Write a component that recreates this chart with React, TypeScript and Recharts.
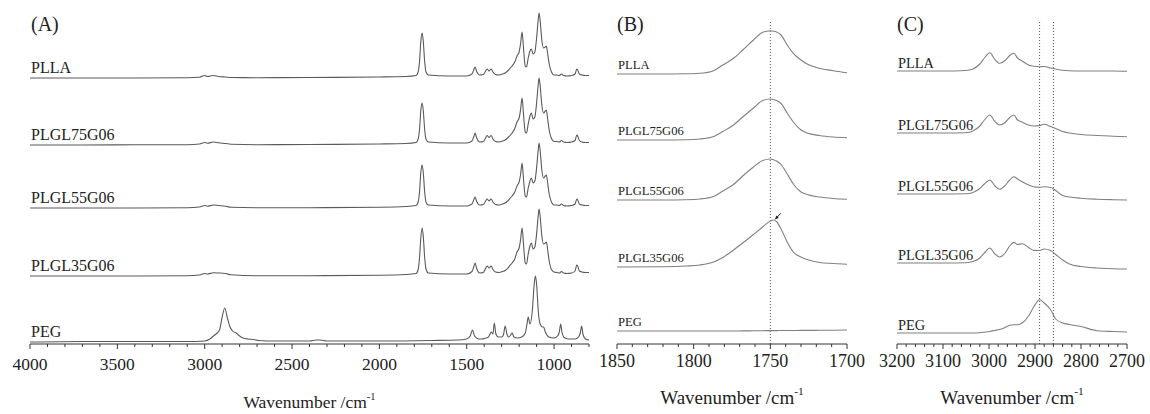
import React from 'react'
import { LineChart, Line, XAxis, YAxis, ReferenceLine, ReferenceDot, Label } from 'recharts'

const SERIF = "'Liberation Serif', 'Times New Roman', serif"

const names = ['PLLA', 'PLGL75G06', 'PLGL55G06', 'PLGL35G06', 'PEG']

// (A) full range 4000-800 cm-1, intensities in a.u.
const waveA = [4000, 3700, 3400, 3100, 3030, 3000, 2985, 2950, 2920, 2880, 2850, 2700, 2400, 2000, 1850, 1790, 1778, 1770, 1763, 1755, 1748, 1741, 1733, 1720, 1600, 1500, 1470, 1460, 1452, 1444, 1425, 1405, 1395, 1383, 1372, 1360, 1350, 1335, 1315, 1295, 1280, 1266, 1255, 1240, 1225, 1212, 1200, 1192, 1183, 1175, 1165, 1158, 1148, 1138, 1130, 1120, 1110, 1100, 1092, 1086, 1080, 1070, 1060, 1050, 1044, 1038, 1028, 1015, 1000, 985, 970, 957, 945, 925, 900, 880, 870, 865, 855, 840, 820, 800]
const pllaA = [0, 0, 0, 0.3, 0.8, 2.5, 1.5, 2.5, 1.5, 1, 0.5, 0.3, 0.5, 1, 1.5, 2.5, 6, 17, 36, 45, 35, 17, 6, 3, 2, 2, 4, 8, 11, 7, 3, 3.5, 6, 9, 7, 9, 6, 3.5, 3, 4, 5, 7, 9, 12, 16, 22, 26, 34, 46, 30, 12, 11, 20, 27, 29, 24, 26, 40, 56, 65, 58, 38, 30, 31, 32, 26, 14, 6, 3, 3, 2.5, 4, 2.5, 2, 2.5, 4, 9, 8, 4, 3, 2.5, 2.5]
const plgl75A = [0, 0, 0.2, 0.3, 1, 2.5, 1.8, 3, 2.2, 1.5, 0.8, 0.3, 0.5, 1, 1.5, 2.5, 6, 16, 34, 42, 33, 16, 6, 3, 2, 2, 4, 8, 12, 7.5, 3, 3.5, 6, 9.5, 7.5, 9.5, 6, 3.5, 3, 4, 5, 7, 9, 12, 16.5, 23, 27, 35, 47, 31, 13, 12, 21, 29, 32, 26, 28, 42, 58, 67, 60, 40, 32, 34, 35, 28, 15, 6.5, 3.5, 3.5, 3, 4.5, 3, 2.5, 3, 4.5, 10, 9, 4.5, 3, 2.5, 2.5]
const plgl55A = [0, 0, 0, 0.3, 1, 2.5, 1.8, 3, 2.5, 1.8, 0.8, 0.3, 0.3, 0.8, 1.5, 2.5, 6, 16.5, 35, 43, 34, 16.5, 6, 3, 2, 2, 4, 8, 11, 7, 3, 3.5, 6, 9, 7, 9, 6, 3.5, 3, 4, 5, 7, 9, 12, 16, 22, 26, 33, 45, 29, 12, 11, 20, 27, 30, 25, 27, 40, 56, 65, 58, 38, 30, 32, 33, 27, 14, 6, 3, 3, 2.5, 4, 2.5, 2, 2.5, 4, 9, 8, 4, 3, 2.5, 2.5]
const plgl35A = [0, 0, 0, 0.3, 1, 2.5, 2, 3.2, 3, 2.5, 1.2, 0.3, 0.3, 0.8, 1.5, 2.5, 6.5, 18.5, 38, 48, 38, 19, 7, 3, 2, 2, 4.5, 9, 13, 8, 3, 3.5, 6.5, 10, 8, 10, 6.5, 4, 3.5, 4.5, 5.5, 7.5, 10, 13, 17, 24, 28, 36, 48, 32, 13, 12, 22, 30, 33, 27, 29, 42, 58, 67, 60, 40, 32, 33, 34, 28, 15, 6.5, 4, 3.5, 3, 4.5, 3, 2.5, 3, 5, 11, 10, 5, 4, 3.5, 3.5]
const wavePegA = [4000, 3700, 3500, 3300, 3100, 3000, 2970, 2950, 2935, 2915, 2900, 2885, 2870, 2855, 2840, 2820, 2800, 2780, 2750, 2720, 2690, 2600, 2400, 2360, 2340, 2300, 2000, 1700, 1550, 1500, 1480, 1467, 1455, 1430, 1415, 1400, 1375, 1360, 1350, 1342, 1333, 1320, 1300, 1290, 1280, 1270, 1260, 1248, 1240, 1230, 1210, 1185, 1165, 1155, 1148, 1138, 1125, 1115, 1107, 1100, 1090, 1080, 1065, 1060, 1050, 1030, 1000, 980, 970, 962, 955, 945, 920, 880, 860, 850, 842, 835, 820, 800]
const pegA = [0, 0.5, 0.5, 0.5, 0.5, 1, 3, 6, 8, 12, 25, 34, 24, 15, 11, 9, 6, 4, 3, 2.5, 1.5, 1, 1, 2, 2, 1, 1, 1.5, 2, 3, 6, 12, 6, 3, 3, 3.5, 5, 10, 8, 19, 8, 5, 5, 7, 16, 8, 5, 7, 9, 5, 4, 5, 9, 18, 25, 18, 30, 55, 66, 58, 30, 18, 15, 15, 10, 5, 4, 6, 10, 18, 10, 5, 3, 3, 5, 9, 16, 8, 3, 2]
const offsetA = [266, 199, 136, 68, 2]
const ticksA = [4000, 3900, 3800, 3700, 3600, 3500, 3400, 3300, 3200, 3100, 3000, 2900, 2800, 2700, 2600, 2500, 2400, 2300, 2200, 2100, 2000, 1900, 1800, 1700, 1600, 1500, 1400, 1300, 1200, 1100, 1000, 900, 800]
const majorA = [4000, 3500, 3000, 2500, 2000, 1500, 1000]

// (B) carbonyl region
const waveB = [1850, 1820, 1805, 1796, 1787, 1781, 1774, 1768, 1761, 1755, 1750, 1748, 1746, 1743, 1739, 1735, 1730, 1726, 1718, 1709, 1700]
const pllaB = [0, 0, 0.2, 0.7, 3.3, 9, 15.7, 24, 34, 41.7, 43.3, 42.8, 42, 39, 29, 20.7, 14, 10, 5.7, 3.3, 1.3]
const plgl75B = [0, 0, 0.3, 1, 3.5, 8.5, 15, 23, 32, 39.5, 41, 40.5, 39.5, 36.5, 27, 18, 10, 7, 4.5, 3, 2.3]
const plgl55B = [0, 0, 0.3, 1, 3.5, 9, 15.5, 24, 33, 39.5, 41, 40.3, 39, 35.5, 26, 16, 8, 5.5, 3, 1.5, 0.7]
const plgl35B = [0, 0.3, 1, 2, 5, 9.5, 17, 24, 32.5, 40, 46, 47, 45.5, 38, 25, 15, 10, 7.5, 4.5, 3.5, 2.7]
const pegB = [0, 0, 0, 0, 0, 0, 0, 0.1, 0.2, 0.3, 0.4, 0.4, 0.4, 0.5, 0.5, 0.5, 0.6, 0.6, 0.7, 0.8, 1]
const offsetB = [270, 204, 144, 77, 13]
const ticksB = [1850, 1840, 1830, 1820, 1810, 1800, 1790, 1780, 1770, 1760, 1750, 1740, 1730, 1720, 1710, 1700]
const majorB = [1850, 1800, 1750, 1700]

// (C) C-H stretching region
const waveC = [3200, 3100, 3050, 3035, 3020, 3010, 2998, 2988, 2977, 2965, 2955, 2946, 2938, 2928, 2914, 2903, 2890, 2880, 2866, 2855, 2840, 2825, 2800, 2765, 2730, 2700]
const pllaC = [0, 0, 0.5, 2, 7, 13, 18.3, 12, 7.7, 10.5, 15.5, 17.7, 13, 10, 6, 4.7, 4.3, 4.5, 3, 2, 0.7, 0.2, 0, 0, 0, -0.3]
const plgl75C = [0, 0, 0.3, 2, 7, 13, 18, 12, 8, 10.5, 15.5, 18, 13, 11, 8, 7, 7.5, 8.7, 6.5, 4.5, 1.5, 0, -1.5, -2.5, -3.2, -3.7]
const plgl55C = [0, 0, 0.2, 1.5, 5.5, 10, 14, 8.5, 4.7, 8.5, 14, 17.3, 15, 12.3, 9, 7.2, 6.7, 7.2, 6.5, 3.5, -1.5, -3, -4.3, -5.2, -5.7, -6]
const plgl35C = [0, 0, 0.3, 1.5, 5, 10, 15, 9.5, 6, 10, 17, 20.6, 18.5, 19.3, 15.5, 12.6, 12.5, 14, 12.5, 8.5, 3, -1, -3.5, -5, -5.7, -6]
const pegC = [0, 0, 0, 0, 0.3, 0.8, 1.5, 2.5, 3.5, 5.5, 7.8, 8.3, 8.3, 10, 17, 26, 33.3, 30, 23.3, 14, 10, 8.5, 6.5, 2.3, 1.5, 1]
const offsetC = [273, 211, 150, 81, 11]
const ticksC = [3200, 3180, 3160, 3140, 3120, 3100, 3080, 3060, 3040, 3020, 3000, 2980, 2960, 2940, 2920, 2900, 2880, 2860, 2840, 2820, 2800, 2780, 2760, 2740, 2720, 2700]
const majorC = [3200, 3100, 3000, 2900, 2800, 2700]

const markerB = [1750]
const markerC = [2890, 2860]

const Y_MAX = 344

const stack = (wave: number[], vals: number[], off: number) =>
  wave.map((w, i) => ({ x: w, y: vals[i] + off }))

const axisTick = (majors: number[], fontSize: number, dy: number) => (p: any) => {
  const major = majors.includes(p.payload.value)
  return (
    <g>
      <line x1={p.x} x2={p.x} y1={p.y} y2={p.y + (major ? 5 : 3)} stroke="#333" />
      {major && (
        <text x={p.x} y={p.y + dy} textAnchor="middle" fill="#222" style={{ fontFamily: SERIF, fontSize }}>
          {p.payload.value}
        </text>
      )}
    </g>
  )
}

const axisTitle = (size: number, dy: number) => (p: any) => {
  const vb = p.viewBox
  return (
    <text x={vb.x + vb.width / 2} y={vb.y + dy} textAnchor="middle" fill="#222" style={{ fontFamily: SERIF, fontSize: size }}>
      Wavenumber /cm
      <tspan dy={-size * 0.45} style={{ fontSize: size * 0.6 }}>-1</tspan>
    </text>
  )
}

const specLabel = (text: string, size: number, dx: number) => (p: any) => (
  <text x={p.viewBox.x + dx} y={p.viewBox.y} fill="#222" style={{ fontFamily: SERIF, fontSize: size }}>
    {text}
  </text>
)

const Arrow = (p: any) => {
  const { x1, y1, x2, y2 } = p
  const a = Math.atan2(y2 - y1, x2 - x1)
  const h = 4
  const pts = [
    [x2, y2],
    [x2 - h * Math.cos(a - 0.45), y2 - h * Math.sin(a - 0.45)],
    [x2 - h * Math.cos(a + 0.45), y2 - h * Math.sin(a + 0.45)],
  ]
  return (
    <g>
      <line x1={x1} y1={y1} x2={x2} y2={y2} stroke="#222" strokeWidth={1} />
      <polygon points={pts.map((q) => q.join(',')).join(' ')} fill="#222" />
    </g>
  )
}

interface PanelProps {
  width: number
  margin: { top: number; right: number; bottom: number; left: number }
  domain: [number, number]
  ticks: number[]
  majors: number[]
  series: { x: number; y: number }[][]
  offsets: number[]
  stroke: string
  nameSize: number
  nameGap: number
  tickSize: number
  tickDy: number
  titleSize: number
  titleDy: number
  markers?: number[]
  children?: React.ReactNode
}

function Panel(props: PanelProps) {
  const { domain, series, offsets } = props
  return (
    <LineChart width={props.width} height={414} margin={props.margin}>
      <XAxis
        dataKey="x" type="number" domain={domain} reversed allowDataOverflow
        ticks={props.ticks} interval={0} tickSize={0} tickMargin={0} tickLine={false}
        tick={axisTick(props.majors, props.tickSize, props.tickDy)}
        axisLine={{ stroke: '#333' }} height={70}
      >
        <Label content={axisTitle(props.titleSize, props.titleDy)} />
      </XAxis>
      <YAxis hide type="number" domain={[0, Y_MAX]} allowDataOverflow />
      {(props.markers || []).map((m) => (
        <ReferenceLine key={m} segment={[{ x: m, y: 0 }, { x: m, y: 322 }]} stroke="#555" strokeDasharray="1 2" />
      ))}
      {series.map((s, i) => (
        <Line key={names[i]} data={s} dataKey="y" type="monotone" dot={false} stroke={props.stroke} strokeWidth={1.1} isAnimationActive={false} />
      ))}
      {names.map((n, i) => (
        <ReferenceDot key={'lbl' + n} x={domain[1]} y={offsets[i] + props.nameGap} r={0} stroke="none"
          label={specLabel(n, props.nameSize, 1)} />
      ))}
      {props.children}
    </LineChart>
  )
}

const panelLetter = (text: string, left: number) => (
  <div style={{ position: 'absolute', left, top: 14, fontSize: 20, lineHeight: '20px', fontFamily: SERIF, color: '#222' }}>{text}</div>
)

export default function App() {
  const seriesA = [
    stack(waveA, pllaA, offsetA[0]),
    stack(waveA, plgl75A, offsetA[1]),
    stack(waveA, plgl55A, offsetA[2]),
    stack(waveA, plgl35A, offsetA[3]),
    stack(wavePegA, pegA, offsetA[4]),
  ]
  const seriesB = [pllaB, plgl75B, plgl55B, plgl35B, pegB].map((v, i) => stack(waveB, v, offsetB[i]))
  const seriesC = [pllaC, plgl75C, plgl55C, plgl35C, pegC].map((v, i) => stack(waveC, v, offsetC[i]))

  return (
    <div style={{ position: 'absolute', left: 0, top: 0, width: 1150, height: 414, background: '#fff', overflow: 'hidden' }}>
      <div style={{ position: 'absolute', left: 0, top: 0 }}>
        <Panel width={600} margin={{ top: 0, right: 11, bottom: 0, left: 30 }} domain={[800, 4000]}
          ticks={ticksA} majors={majorA} series={seriesA} offsets={offsetA} stroke="#5a5a5a"
          nameSize={16} nameGap={5} tickSize={17.5} tickDy={26} titleSize={17.5} titleDy={64} />
      </div>
      <div style={{ position: 'absolute', left: 600, top: 0 }}>
        <Panel width={280} margin={{ top: 0, right: 33, bottom: 0, left: 17 }} domain={[1700, 1850]}
          ticks={ticksB} majors={majorB} series={seriesB} offsets={offsetB} stroke="#808080"
          nameSize={12.6} nameGap={5} tickSize={18} tickDy={23} titleSize={19} titleDy={60} markers={markerB}>
          <ReferenceLine segment={[{ x: 1743.2, y: 130.7 }, { x: 1746.9, y: 124.7 }]} shape={(p: any) => <Arrow {...p} />} />
        </Panel>
      </div>
      <div style={{ position: 'absolute', left: 870, top: 0 }}>
        <Panel width={280} margin={{ top: 0, right: 23, bottom: 0, left: 27 }} domain={[2700, 3200]}
          ticks={ticksC} majors={majorC} series={seriesC} offsets={offsetC} stroke="#808080"
          nameSize={14.4} nameGap={3} tickSize={18} tickDy={23} titleSize={19} titleDy={60} markers={markerC} />
      </div>
      {panelLetter('(A)', 31)}
      {panelLetter('(B)', 617)}
      {panelLetter('(C)', 897)}
    </div>
  )
}
